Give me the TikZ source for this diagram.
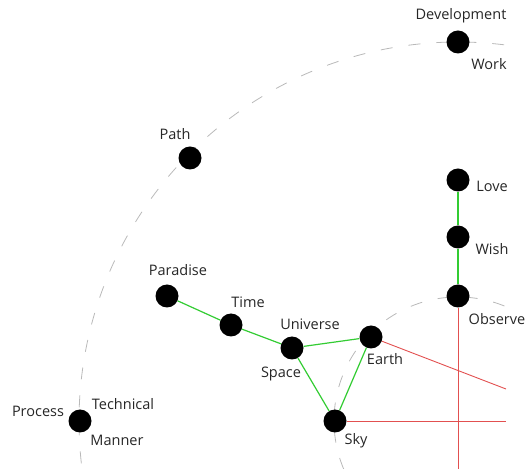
\documentclass[tikz,border=0pt]{standalone}
\usepackage{fontspec}
\setmainfont{Open Sans}
\usepackage{tikz}
\usetikzlibrary{calc}
\definecolor{edgegreen}{RGB}{51,204,51}
\definecolor{edgered}{RGB}{226,80,80}
\tikzset{
	dot/.style={circle, fill=black, inner sep=0pt, minimum size=23pt},
	lbl/.style={inner sep=0pt, text=black!85, font=\fontsize{14.5pt}{17pt}\selectfont},
	ring/.style={gray!55, line width=0.8pt, dash pattern=on 12pt off 16pt},
	link/.style={edgegreen, line width=1.2pt},
	cut/.style={edgered, line width=0.9pt}
}

\begin{document}
\begin{tikzpicture}[x=1pt, y=1pt]
			%%%%% START %%%%%
			
			\useasboundingbox (0, 0) rectangle (531, 469);
			\clip (0, 0) rectangle (531, 469);
			
			\coordinate (centre) at (458, 48);
			
			% the two rings
			\draw[ring] ($(centre)+(83:379)$) arc (83:195:379);
			\draw[ring] ($(centre)+(68:124)$) arc (68:215:124);
			
			% points
			\node[dot] (development) at (458, 427) {};
			\node[dot] (path) at (190, 311) {};
			\node[dot] (love) at (458, 289) {};
			\node[dot] (wish) at (458, 232) {};
			\node[dot] (observe) at (458, 173) {};
			\node[dot] (paradise) at (167, 173) {};
			\node[dot] (time) at (231, 144) {};
			\node[dot] (universe) at (292, 121) {};
			\node[dot] (earth) at (371, 132) {};
			\node[dot] (sky) at (335, 48) {};
			\node[dot] (process) at (80, 48) {};
			
			% red guides
			\coordinate (farslope) at (506, 80);
			\coordinate (farright) at (506, 48);
			\coordinate (farbottom) at (458, -2);
			\draw[cut] (earth) -- (farslope);
			\draw[cut] (sky) -- (farright);
			\draw[cut] (observe) -- (farbottom);
			
			% green links
			\draw[link] (love) -- (wish);
			\draw[link] (wish) -- (observe);
			\draw[link] (paradise) -- (time);
			\draw[link] (time) -- (universe);
			\draw[link] (universe) -- (earth);
			\draw[link] (universe) -- (sky);
			\draw[link] (earth) -- (sky);
			
			% labels
			\node[lbl] (developmentlbl) at ($(development)+(3, 26)$) {Development};
			\node[lbl] (worklbl) at ($(development)+(31, -22)$) {Work};
			\node[lbl] (pathlbl) at ($(path)+(-15, 24)$) {Path};
			\node[lbl] (lovelbl) at ($(love)+(34, -6)$) {Love};
			\node[lbl] (wishlbl) at ($(wish)+(34, -12)$) {Wish};
			\node[lbl] (observelbl) at ($(observe)+(39, -23)$) {Observe};
			\node[lbl] (paradiselbl) at ($(paradise)+(11, 26)$) {Paradise};
			\node[lbl] (timelbl) at ($(time)+(17, 23)$) {Time};
			\node[lbl] (universelbl) at ($(universe)+(18, 24)$) {Universe};
			\node[lbl] (spacelbl) at ($(universe)+(-11, -26)$) {Space};
			\node[lbl] (earthlbl) at ($(earth)+(14, -22)$) {Earth};
			\node[lbl] (skylbl) at ($(sky)+(21, -20)$) {Sky};
			\node[lbl] (processlbl) at ($(process)+(-42, 10)$) {Process};
			\node[lbl] (technicallbl) at ($(process)+(43, 17)$) {Technical};
			\node[lbl] (mannerlbl) at ($(process)+(37, -19)$) {Manner};
			
			%%%%% END %%%%%
		\end{tikzpicture}
\end{document}
